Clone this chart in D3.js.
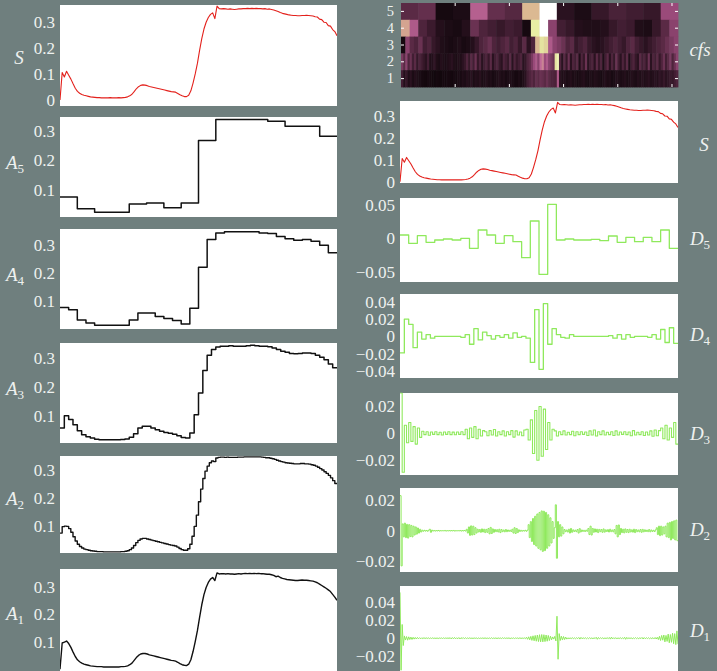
<!DOCTYPE html>
<html>
<head>
<meta charset="utf-8">
<script src="https://cdn.jsdelivr.net/npm/d3@7"></script>
<style>
  html, body { margin: 0; padding: 0; background: #6f7f7e; }
  svg { display: block; }
</style>
</head>
<body>
<svg id="chart" width="717" height="671"></svg>
<script>
// ---------------------------------------------------------------
// Signal S and its approximations A5..A1 (sample axis 0..1)
// ---------------------------------------------------------------
const signalS = [
  0.000,0.105,0.088,0.110,0.095,0.080,0.062,0.045,0.033,0.026,
  0.021,0.018,0.016,0.014,0.012,0.011,0.010,0.009,0.009,0.008,
  0.008,0.008,0.008,0.009,0.008,0.008,0.008,0.009,0.008,0.009,
  0.010,0.012,0.016,0.022,0.032,0.043,0.051,0.056,0.058,0.057,
  0.055,0.052,0.050,0.048,0.046,0.044,0.042,0.040,0.038,0.036,
  0.034,0.032,0.031,0.030,0.025,0.020,0.016,0.013,0.013,0.018,
  0.035,0.065,0.100,0.140,0.190,0.235,0.272,0.298,0.316,0.328,
  0.334,0.312,0.360,0.350,0.349,0.350,0.349,0.348,0.349,0.348,
  0.347,0.348,0.349,0.349,0.350,0.350,0.351,0.350,0.351,0.350,
  0.351,0.350,0.350,0.349,0.350,0.348,0.349,0.347,0.345,0.342,
  0.339,0.335,0.332,0.330,0.328,0.326,0.325,0.324,0.324,0.323,
  0.323,0.324,0.324,0.325,0.324,0.323,0.322,0.319,0.318,0.310,
  0.308,0.298,0.297,0.285,0.283,0.270,0.262,0.246
];

const approxA5 = [0.075,0.034,0.022,0.022,0.051,0.054,0.038,0.054,
                  0.268,0.340,0.340,0.340,0.334,0.317,0.317,0.283];

const approxA4 = [0.079,0.071,0.035,0.024,0.016,0.016,0.016,0.016,
                  0.035,0.059,0.059,0.047,0.040,0.033,0.021,0.076,
                  0.220,0.318,0.341,0.345,0.345,0.345,0.345,0.341,
                  0.339,0.329,0.321,0.315,0.318,0.312,0.298,0.271];

const approxA3 = [
  0.060,0.102,0.089,0.071,0.051,0.037,0.030,0.026,0.022,0.020,
  0.020,0.020,0.020,0.020,0.021,0.023,0.029,0.041,0.060,0.066,
  0.066,0.060,0.054,0.049,0.045,0.042,0.039,0.034,0.028,0.026,
  0.043,0.106,0.180,0.257,0.309,0.329,0.337,0.340,0.340,0.342,
  0.340,0.340,0.340,0.342,0.343,0.342,0.340,0.340,0.338,0.334,
  0.329,0.323,0.319,0.315,0.314,0.315,0.317,0.317,0.315,0.309,
  0.302,0.294,0.279,0.266
];

const approxA2 = [
  0.075,0.098,0.100,0.099,0.091,0.078,0.062,0.047,0.035,0.027,
  0.022,0.018,0.016,0.014,0.012,0.011,0.010,0.009,0.009,0.009,
  0.008,0.008,0.008,0.008,0.008,0.008,0.008,0.008,0.009,0.009,
  0.010,0.012,0.016,0.022,0.031,0.041,0.049,0.054,0.056,0.056,
  0.054,0.052,0.050,0.048,0.046,0.044,0.042,0.040,0.038,0.036,
  0.034,0.032,0.031,0.029,0.025,0.020,0.016,0.014,0.014,0.019,
  0.035,0.064,0.099,0.139,0.187,0.232,0.270,0.296,0.314,0.326,
  0.332,0.330,0.343,0.345,0.346,0.346,0.345,0.346,0.345,0.345,
  0.345,0.345,0.346,0.346,0.346,0.347,0.347,0.347,0.347,0.347,
  0.347,0.347,0.347,0.346,0.345,0.344,0.344,0.342,0.340,0.338,
  0.335,0.332,0.330,0.328,0.326,0.325,0.324,0.323,0.322,0.322,
  0.322,0.323,0.323,0.322,0.322,0.321,0.319,0.317,0.314,0.310,
  0.305,0.300,0.294,0.288,0.281,0.272,0.262,0.252
];

const approxA1 = [
  0.000,0.095,0.098,0.102,0.093,0.079,0.062,0.046,0.034,0.027,
  0.022,0.018,0.016,0.014,0.012,0.011,0.010,0.009,0.009,0.009,
  0.008,0.008,0.008,0.008,0.008,0.008,0.008,0.008,0.009,0.009,
  0.010,0.012,0.016,0.022,0.032,0.042,0.050,0.055,0.057,0.057,
  0.055,0.052,0.050,0.048,0.046,0.044,0.042,0.040,0.038,0.036,
  0.034,0.032,0.031,0.029,0.025,0.020,0.016,0.014,0.013,0.018,
  0.034,0.064,0.100,0.140,0.188,0.234,0.271,0.297,0.315,0.327,
  0.333,0.322,0.350,0.346,0.347,0.347,0.346,0.347,0.346,0.346,
  0.345,0.346,0.347,0.346,0.347,0.348,0.347,0.348,0.347,0.348,
  0.347,0.348,0.347,0.347,0.346,0.345,0.345,0.343,0.341,0.336,
  0.338,0.333,0.330,0.328,0.326,0.325,0.324,0.323,0.322,0.322,
  0.323,0.324,0.323,0.323,0.322,0.321,0.320,0.317,0.314,0.309,
  0.304,0.299,0.294,0.288,0.282,0.272,0.262,0.250
];

// ---------------------------------------------------------------
// Details D5..D1, in units of 1e-4
// ---------------------------------------------------------------
const DETAIL_UNIT = 1e-4;

const detailD5 = [50,-75,40,-60,-25,-10,-25,0,-150,125,50,-75,40,-50,-290,260,
                  -540,510,-25,-10,-25,-25,-15,-35,35,-60,15,-50,15,-50,125,-150];

const detailD4 = [
  -190,200,140,-130,50,-30,20,-20,
  0,0,0,0,0,0,
  -10,20,-90,90,-40,50,10,-30,10,-10,20,-20,40,-10,0,-20,
  -300,310,-380,380,-90,90,20,-10,-20,20,
  0,0,0,0,0,0,0,0,
  10,-20,20,-30,20,-10,
  0,0,0,
  -10,20,-30,80,-70,100,-80
];

const detailD3 = [
  300,-290,60,-70,80,-60,50,-80,40,-30,
  15,-10,12,-14,10,-8,12,-10,8,-12,10,-8,12,-10,9,-11,10,-8,12,-10,
  30,-40,40,-30,50,-40,30,-20,20,
  12,-18,20,-12,28,-20,12,-10,18,-20,12,-10,20,-28,18,-12,10,-18,25,
  30,-50,100,-150,170,-200,200,-170,180,-120,80,-50,30,
  18,-20,12,-10,18,-12,8,-10,16,-18,
  12,-10,12,-8,10,-16,18,-12,25,-20,
  12,-10,18,-12,8,-10,12,-16,18,-12,
  10,-8,12,-10,10,-18,20,-12,8,-10,
  12,-16,10,-12,18,-22,25,-18,20,
  40,-40,60,-50,40,-30,80,-80
];

const detailD2 = [
  230,-230,
  45,-40,50,-45,42,-48,40,-38,35,-40,30,-28,25,-22,18,-15,10,-8,
  4,-3,3,-2,2,-3,3,10,-10,4,-2,2,-2,1,-1,2,-2,1,-1,1,
  -1,2,-2,1,-1,1,-1,1,-1,2,-2,1,-1,1,-1,2,-2,1,-1,2,-2,
  10,-15,25,-30,32,-28,30,-25,20,-15,10,-8,
  8,-10,12,-8,10,-12,9,-10,15,-20,22,-18,12,-10,8,-6,7,-8,10,-12,8,-6,5,-7,8,-6,5,-4,
  4,-5,10,-15,20,-18,15,-12,6,-4,
  3,-3,2,-2,3,-3,4,
  40,-45,60,-70,80,-90,95,-100,110,-115,120,-125,130,-135,128,-130,120,-115,105,-100,85,-80,60,-50,
  20,170,-180,60,-40,
  40,-35,25,-20,
  8,-6,5,-8,10,-15,15,-10,6,-5,4,-6,8,-15,14,-8,5,-4,3,-5,4,-3,
  15,-25,30,-28,15,
  -10,12,-8,10,-12,9,-6,8,-10,12,-9,6,-5,7,-8,10,-6,5,-7,8,
  -20,35,-40,38,-25,
  15,-12,10,-14,12,-10,8,-12,10,-8,6,-9,10,-12,8,-6,5,-7,8,-10,9,-7,6,-5,4,-6,8,-7,5,-4,3,-5,6,
  20,-25,30,-32,30,-28,25,-20,
  30,-40,50,-45,55,-60,60,-50,65,-60,70,-65
];

const detailD1 = [
  500,-350,150,-80,
  25,-20,18,-22,15,-15,12,-14,10,-10,8,-9,8,-6,6,-7,5,-5,6,-4,4,
  -3,4,-4,3,-3,4,-3,2,-3,3,-4,3,-2,3,-3,4,-3,3,-2,3,-3,
  6,-8,7,-6,8,-7,5,-6,7,-8,6,-5,7,-6,5,-4,
  3,-3,4,-3,2,-3,3,-2,3,-4,3,-3,2,-2,3,-3,4,-3,2,-3,
  3,-4,5,-4,3,-3,4,-5,4,-3,3,-4,5,-3,4,-3,3,-2,4,-5,
  3,-3,4,-4,3,-2,3,-4,5,-4,3,-3,4,-5,
  10,-12,15,-18,20,-24,26,-28,30,-33,35,-37,38,-40,40,-40,38,-37,35,-33,30,-26,22,-18,14,-10,
  20,-30,240,-230,50,
  -25,22,-20,18,-15,12,-10,
  5,-6,4,-5,6,-5,4,-6,5,-4,8,-10,9,-6,5,-4,5,-6,4,-5,
  6,-5,4,-6,5,-4,10,-12,8,-6,5,-4,5,-6,4,-5,6,-5,8,-10,
  12,-8,5,-4,5,-6,4,-5,6,-5,4,-6,10,-12,9,-6,5,-4,5,-6,
  4,-5,6,-5,4,-6,5,-4,8,-9,7,-6,5,-4,5,-6,4,-5,6,-7,
  8,-9,10,
  -15,20,-25,30,-22,35,-40,30,-35,45,-50,40,-45,55,-60,50,-70,80,-65
];

// ---------------------------------------------------------------
// Coefficient magnitudes per level (0 = darkest, 1 = brightest)
// ---------------------------------------------------------------
const cfsLevel5 = [0.35,0.38,0.05,0.08,0.62,0.38,0.33,0.80,1.00,0.15,0.08,0.20,0.28,0.24,0.20,0.55];

const cfsLevel4 = [0.76,0.60,0.30,0.22,0.12,0.08,0.06,0.12,0.40,0.30,0.25,0.20,0.25,0.22,0.05,0.90,
                   1.00,0.50,0.25,0.20,0.12,0.10,0.10,0.12,0.20,0.25,0.22,0.10,0.08,0.20,0.35,0.50];

const cfsLevel3 = [
  0.05,0.50,0.35,0.30,0.40,0.25,0.30,0.20,0.15,0.10,
  0.08,0.06,0.08,0.10,0.06,0.08,0.12,0.20,0.30,0.35,
  0.40,0.30,0.25,0.30,0.35,0.25,0.30,0.20,0.35,0.15,
  0.30,0.80,0.88,0.85,0.60,0.50,0.45,0.40,0.30,0.35,
  0.20,0.25,0.30,0.20,0.15,0.12,0.15,0.20,0.25,0.30,
  0.25,0.20,0.30,0.35,0.25,0.20,0.15,0.20,0.25,0.30,
  0.35,0.40,0.45,0.50
];

const cfsLevel2 = [
  0.45,0.35,0.50,0.30,0.40,0.25,0.35,0.20,0.30,0.25,
  0.20,0.15,0.25,0.10,0.12,0.18,0.10,0.08,0.12,0.10,
  0.08,0.10,0.12,0.15,0.10,0.08,0.12,0.10,0.15,0.20,
  0.30,0.20,0.35,0.25,0.40,0.20,0.30,0.15,0.25,0.30,
  0.20,0.35,0.15,0.25,0.30,0.20,0.15,0.30,0.25,0.20,
  0.35,0.15,0.30,0.20,0.25,0.30,0.15,0.20,0.30,0.35,
  0.45,0.55,0.60,0.50,0.65,0.70,0.55,0.60,0.50,0.45,0.40,0.88,0.92,
  0.30,0.15,0.35,0.20,0.40,0.15,0.30,0.25,0.35,0.10,
  0.30,0.20,0.40,0.15,0.25,0.30,0.15,0.35,0.20,0.30,
  0.10,0.25,0.35,0.15,0.30,0.20,0.40,0.25,0.15,0.30,
  0.20,0.35,0.10,0.25,0.30,0.20,0.15,0.35,0.25,0.30,
  0.20,0.40,0.15,0.30,0.25,0.35,0.20,0.30,0.40,0.25,
  0.35,0.45,0.30,0.40,0.50
];

const cfsLevel1 = [
  0.25,0.12,0.20,0.10,0.15,0.08,0.12,0.10,0.08,0.06,
  0.05,0.04,0.06,0.05,0.04,0.03,0.05,0.04,0.03,0.05,
  0.04,0.06,0.05,0.04,0.06,0.05,0.08,0.06,0.10,0.08,
  0.12,0.10,0.15,0.08,0.12,0.10,0.14,0.08,0.10,0.12,
  0.08,0.10,0.06,0.08,0.10,0.12,0.08,0.10,0.06,0.08,
  0.10,0.08,0.06,0.05,0.08,0.06,0.10,0.15,
  0.25,0.30,0.35,0.30,0.38,0.35,0.40,0.38,0.35,0.40,0.35,0.30,0.30,0.28,0.60,
  0.15,0.10,0.12,0.08,0.10,0.12,0.08,0.10,0.06,0.08,
  0.10,0.12,0.08,0.06,0.10,0.08,0.12,0.10,0.08,0.06,
  0.10,0.12,0.08,0.10,0.06,0.08,0.12,0.10,0.08,0.10,
  0.12,0.08,0.10,0.12,0.10,0.08,0.12,0.10,0.14,0.10,
  0.12,0.15,0.10,0.12,0.15,0.12,0.18,0.15,0.20,0.15,
  0.18,0.22,0.20,0.25,0.30
];

const cfsLevels = [5, 4, 3, 2, 1];
const cfsRows = { 5: cfsLevel5, 4: cfsLevel4, 3: cfsLevel3, 2: cfsLevel2, 1: cfsLevel1 };
const sampleTicks = [100, 200, 300, 400, 500];

// Tick values per panel
const ticksSignal = [0, 0.1, 0.2, 0.3];
const ticksApprox = [0.1, 0.2, 0.3];
const ticksD5 = [-0.05, 0, 0.05];
const ticksD4 = [-0.04, -0.02, 0, 0.02, 0.04];
const ticksD3 = [-0.02, 0, 0.02];
const ticksD2 = [-0.02, 0, 0.02];
const ticksD1 = [-0.02, 0, 0.02, 0.04];

// ---------------------------------------------------------------
// Drawing
// ---------------------------------------------------------------
const BG = '#6f7f7e';
const TEXT = '#eef1ef';
const FONT = '"Liberation Serif", "Times New Roman", serif';
const RED = '#e3211c';
const BLACK = '#111111';
const GREEN = '#8fe95c';

const svg = d3.select('#chart');
svg.append('rect').attr('width', 717).attr('height', 671).attr('fill', BG);
const defs = svg.append('defs');

const fmtTick = d => {
  if (d === 0) return '0';
  return String(+d.toFixed(2)).replace('-', '\u2212');
};

function drawLabel(cx, cy, main, sub) {
  const t = svg.append('text')
    .attr('x', cx).attr('y', cy)
    .attr('text-anchor', 'middle')
    .attr('dy', '0.35em')
    .attr('fill', TEXT)
    .attr('font-family', FONT)
    .attr('font-size', 19);
  t.append('tspan').attr('font-style', 'italic').text(main);
  if (sub) t.append('tspan').attr('font-size', 13).attr('dy', '0.3em').text(sub);
}

let clipCount = 0;
function drawSeriesPanel(cfg) {
  const { x0, x1, y0, y1, domain, values, unit = 1, step, color, width, ticks } = cfg;
  const id = 'clip' + (clipCount++);
  defs.append('clipPath').attr('id', id)
    .append('rect').attr('x', x0).attr('y', y0 - 0.5).attr('width', x1 - x0).attr('height', y1 - y0 + 1);

  svg.append('rect').attr('x', x0).attr('y', y0)
    .attr('width', x1 - x0).attr('height', y1 - y0).attr('fill', '#ffffff');

  const x = d3.scaleLinear().domain([0, 1]).range([x0, x1]);
  const y = d3.scaleLinear().domain(domain).range([y1, y0]);
  const n = values.length;
  let pts;
  if (step) {
    pts = values.map((v, i) => [i / n, v * unit]);
    pts.push([1, values[n - 1] * unit]);
  } else {
    pts = values.map((v, i) => [i / (n - 1), v * unit]);
  }
  const line = d3.line()
    .x(d => x(d[0])).y(d => y(d[1]))
    .curve(step ? d3.curveStepAfter : d3.curveLinear);
  svg.append('path')
    .attr('clip-path', `url(#${id})`)
    .attr('d', line(pts))
    .attr('fill', 'none')
    .attr('stroke', color)
    .attr('stroke-width', width)
    .attr('stroke-linejoin', 'round');

  const ax = svg.append('g')
    .attr('transform', `translate(${x0},0)`)
    .call(d3.axisLeft(y).tickValues(ticks).tickSize(0).tickPadding(5).tickFormat(fmtTick));
  ax.select('.domain').remove();
  ax.attr('font-family', FONT).attr('font-size', 17).attr('color', TEXT);
}

// Left column: S and approximations
const LX0 = 60, LX1 = 337;
drawSeriesPanel({ x0: LX0, x1: LX1, y0: 5, y1: 106, domain: [-0.023, 0.364], values: signalS,
  step: false, color: RED, width: 1.1, ticks: ticksSignal });
drawLabel(19, 57, 'S');

drawSeriesPanel({ x0: LX0, x1: LX1, y0: 117, y1: 217, domain: [0.006, 0.349], values: approxA5,
  step: true, color: BLACK, width: 1.5, ticks: ticksApprox });
drawLabel(15, 162, 'A', '5');

drawSeriesPanel({ x0: LX0, x1: LX1, y0: 229, y1: 329, domain: [0.003, 0.355], values: approxA4,
  step: true, color: BLACK, width: 1.5, ticks: ticksApprox });
drawLabel(15, 274, 'A', '4');

drawSeriesPanel({ x0: LX0, x1: LX1, y0: 343, y1: 443, domain: [0.009, 0.351], values: approxA3,
  step: true, color: BLACK, width: 1.5, ticks: ticksApprox });
drawLabel(15, 388, 'A', '3');

drawSeriesPanel({ x0: LX0, x1: LX1, y0: 456, y1: 553, domain: [0.004, 0.350], values: approxA2,
  step: true, color: BLACK, width: 1.4, ticks: ticksApprox });
drawLabel(15, 498, 'A', '2');

drawSeriesPanel({ x0: LX0, x1: LX1, y0: 569, y1: 673, domain: [-0.014, 0.364], values: approxA1,
  step: false, color: BLACK, width: 1.4, ticks: ticksApprox });
drawLabel(15, 613, 'A', '1');

// Right column: coefficient map
const RX0 = 400, RX1 = 678;
(function drawCfs() {
  const y0 = 3, y1 = 87;
  const xs = d3.scaleLinear().domain([0, 1]).range([RX0 + 1, RX1]);
  const xSample = d3.scaleLinear().domain([1, 512]).range([RX0 + 1, RX1]);
  const yBand = d3.scaleBand().domain(cfsLevels).range([y0, y1]);
  const color = d3.scaleLinear()
    .domain([0, 0.15, 0.35, 0.55, 0.65, 0.78, 0.9, 1])
    .range(['#0c0508', '#2a1220', '#5a2a45', '#9a4a7a', '#c06a98', '#d8ae8e', '#e8eea4', '#ffffff'])
    .clamp(true);

  const g = svg.append('g');
  cfsLevels.forEach(level => {
    const row = cfsRows[level];
    const n = row.length;
    g.selectAll(null).data(row).enter().append('rect')
      .attr('x', (d, i) => xs(i / n))
      .attr('y', yBand(level))
      .attr('width', (d, i) => xs((i + 1) / n) - xs(i / n) + 0.4)
      .attr('height', yBand.bandwidth() + 0.4)
      .attr('fill', d => color(d));
  });

  const styleAxis = (sel, size) => {
    sel.select('.domain').remove();
    sel.selectAll('.tick line').attr('stroke', '#ffffff').attr('stroke-width', 1);
    sel.attr('font-family', FONT).attr('font-size', size).attr('color', TEXT);
  };
  svg.append('g').attr('transform', `translate(${RX0 + 1},0)`)
    .call(d3.axisLeft(yBand).tickSizeInner(-3).tickSizeOuter(0).tickPadding(7))
    .call(styleAxis, 14.5);
  svg.append('g').attr('transform', `translate(${RX1},0)`)
    .call(d3.axisRight(yBand).tickSizeInner(-3).tickSizeOuter(0).tickFormat(''))
    .call(styleAxis, 14.5);
  svg.append('g').attr('transform', `translate(0,${y1})`)
    .call(d3.axisBottom(xSample).tickValues(sampleTicks).tickSizeInner(-3).tickSizeOuter(0).tickFormat(''))
    .call(styleAxis, 14.5);
  svg.append('g').attr('transform', `translate(0,${y0})`)
    .call(d3.axisTop(xSample).tickValues(sampleTicks).tickSizeInner(-3).tickSizeOuter(0).tickFormat(''))
    .call(styleAxis, 14.5);

  svg.append('text').attr('x', 700).attr('y', 49).attr('text-anchor', 'middle')
    .attr('dy', '0.35em').attr('fill', TEXT).attr('font-family', FONT)
    .attr('font-size', 19).attr('font-style', 'italic').text('cfs');
})();

// Right column: S and details
drawSeriesPanel({ x0: RX0, x1: RX1, y0: 101, y1: 183, domain: [-0.006, 0.366], values: signalS,
  step: false, color: RED, width: 1.1, ticks: ticksSignal });
drawLabel(704, 144, 'S');

drawSeriesPanel({ x0: RX0, x1: RX1, y0: 198, y1: 282, domain: [-0.0655, 0.0605], values: detailD5,
  unit: DETAIL_UNIT, step: true, color: GREEN, width: 1.3, ticks: ticksD5 });
drawLabel(700, 238, 'D', '5');

drawSeriesPanel({ x0: RX0, x1: RX1, y0: 294, y1: 378, domain: [-0.048, 0.049], values: detailD4,
  unit: DETAIL_UNIT, step: true, color: GREEN, width: 1.3, ticks: ticksD4 });
drawLabel(700, 334, 'D', '4');

drawSeriesPanel({ x0: RX0, x1: RX1, y0: 393, y1: 475, domain: [-0.031, 0.030], values: detailD3,
  unit: DETAIL_UNIT, step: true, color: GREEN, width: 1.1, ticks: ticksD3 });
drawLabel(700, 433, 'D', '3');

drawSeriesPanel({ x0: RX0, x1: RX1, y0: 488, y1: 572, domain: [-0.027, 0.028], values: detailD2,
  unit: DETAIL_UNIT, step: true, color: GREEN, width: 1.0, ticks: ticksD2 });
drawLabel(700, 529, 'D', '2');

drawSeriesPanel({ x0: RX0, x1: RX1, y0: 586, y1: 673, domain: [-0.038, 0.057], values: detailD1,
  unit: DETAIL_UNIT, step: false, color: GREEN, width: 1.0, ticks: ticksD1 });
drawLabel(700, 630, 'D', '1');
</script>
</body>
</html>
